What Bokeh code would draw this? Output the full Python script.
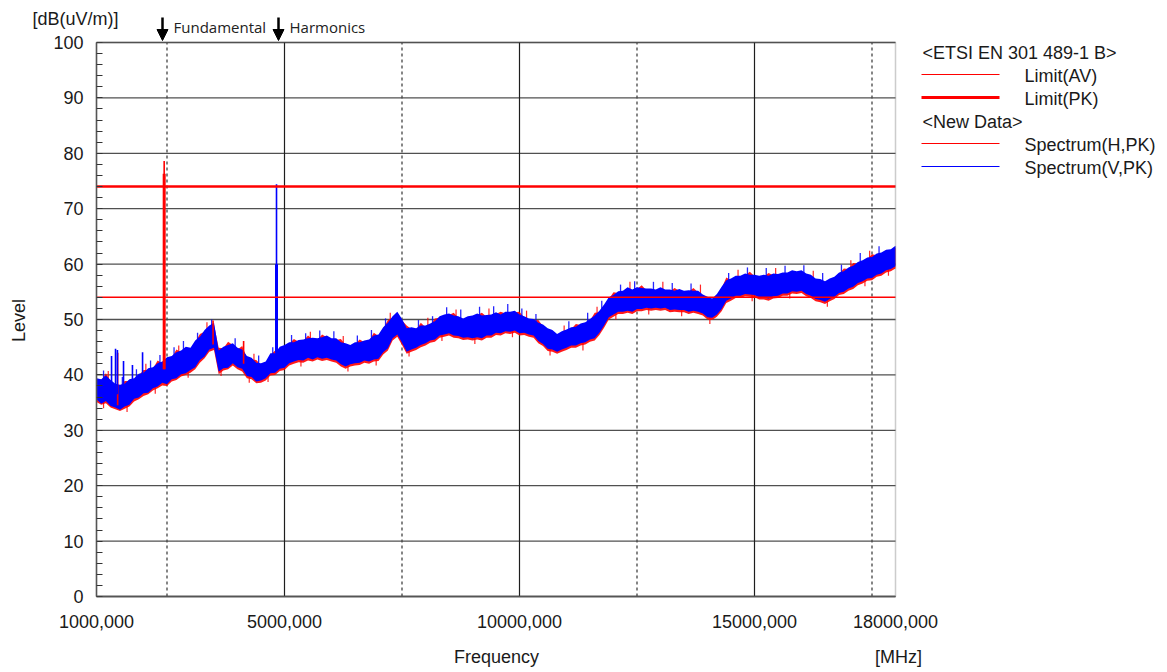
from math import pi
from bokeh.plotting import figure
from bokeh.models import Range1d, FixedTicker, Label, Arrow, NormalHead, BoxAnnotation
from bokeh.embed import file_html
from bokeh.resources import INLINE

# ---------------- data ----------------
freq = list(range(1000, 18001, 100))  # MHz sample points

v_lo = [35.6, 34.8, 35.3, 34.4, 34.1, 33.7, 34.3, 34.6, 35.7, 35.9,
        36.7, 36.8, 37.6, 37.9, 38.6, 38.3, 39.2, 39.4, 40.1, 40.3,
        40.9, 41.4, 42.7, 43.3, 44.6, 44.9, 40.6, 41.2, 41.3, 42.1,
        41.4, 41.1, 39.8, 39.6, 38.8, 39.0, 39.4, 40.3, 40.4, 41.1,
        41.3, 42.1, 42.4, 42.7, 42.6, 43.1, 42.8, 43.2, 42.9, 43.1,
        42.8, 42.6, 41.9, 41.5, 41.9, 42.1, 42.2, 42.6, 42.4, 42.8,
        42.9, 44.1, 44.8, 46.6, 47.3, 45.8, 44.2, 44.6, 44.9, 45.4,
        45.7, 46.2, 46.4, 47.1, 47.3, 47.5, 47.1, 47.0, 46.7, 46.8,
        46.6, 46.8, 46.6, 47.1, 47.1, 47.6, 47.5, 47.9, 47.8, 48.0,
        47.5, 47.6, 47.3, 47.1, 46.1, 45.6, 44.7, 44.6, 44.2, 44.6,
        44.9, 45.3, 45.3, 45.7, 45.9, 46.4, 46.6, 47.6, 48.9, 50.4,
        50.9, 51.4, 51.4, 51.6, 51.4, 51.9, 51.9, 52.1, 52.0, 52.1,
        52.0, 52.1, 51.7, 51.8, 51.7, 51.7, 51.4, 51.6, 51.4, 51.1,
        50.4, 50.3, 50.9, 51.9, 53.4, 53.8, 54.3, 54.3, 54.6, 54.5,
        54.4, 54.0, 54.0, 53.8, 54.2, 54.3, 54.7, 54.7, 55.1, 55.0,
        55.2, 54.6, 54.3, 53.7, 53.5, 53.2, 53.7, 54.1, 54.8, 55.0,
        55.6, 55.9, 56.6, 56.9, 57.4, 57.5, 58.1, 58.3, 58.9, 59.1,
        59.6]
v_hi = [39.4, 39.2, 39.9, 39.1, 38.4, 38.2, 38.4, 39.2, 39.4, 40.2,
        40.4, 41.2, 41.4, 42.1, 42.4, 43.2, 43.4, 44.1, 44.4, 45.1,
        44.9, 46.2, 46.9, 48.1, 48.9, 49.4, 44.4, 45.1, 45.4, 45.7,
        44.9, 44.6, 43.4, 43.1, 42.2, 42.1, 42.4, 43.9, 43.9, 45.1,
        45.4, 45.9, 45.9, 46.3, 46.4, 46.6, 46.7, 46.6, 46.8, 47.1,
        46.6, 46.6, 45.9, 45.7, 45.4, 45.9, 45.9, 46.2, 46.4, 47.1,
        47.3, 48.6, 49.4, 50.6, 51.4, 50.1, 48.4, 48.6, 48.4, 48.9,
        48.9, 49.3, 49.7, 50.6, 50.9, 51.1, 50.7, 50.6, 50.2, 50.6,
        50.7, 51.1, 50.7, 50.8, 50.9, 51.3, 50.9, 51.4, 51.4, 51.6,
        50.9, 50.6, 50.2, 50.1, 49.4, 49.1, 48.4, 48.1, 47.4, 47.9,
        48.2, 48.6, 48.7, 49.3, 49.5, 50.1, 50.7, 51.6, 52.7, 54.0,
        54.4, 55.1, 55.2, 55.8, 55.4, 55.8, 55.7, 55.6, 55.6, 55.4,
        55.8, 55.4, 55.4, 55.2, 55.5, 55.2, 55.3, 55.2, 55.2, 54.5,
        54.1, 53.8, 54.6, 55.9, 57.1, 57.4, 57.9, 57.9, 58.3, 58.1,
        58.1, 57.9, 58.1, 57.9, 58.3, 58.2, 58.5, 58.5, 58.9, 58.7,
        58.9, 58.3, 58.1, 57.4, 57.3, 56.9, 57.4, 57.7, 58.5, 58.7,
        59.4, 59.7, 60.4, 60.7, 61.2, 61.3, 61.9, 62.1, 62.6, 62.7,
        63.3]
h_lo = [35.1, 34.6, 34.9, 34.1, 33.8, 33.5, 33.9, 34.3, 35.2, 35.6,
        36.2, 36.5, 37.2, 37.6, 38.1, 38.0, 38.8, 39.1, 39.7, 40.0,
        40.4, 41.0, 42.2, 43.0, 44.2, 44.5, 40.1, 40.8, 41.0, 41.7,
        41.0, 40.6, 39.4, 39.2, 38.5, 38.6, 39.0, 39.9, 40.0, 40.7,
        40.9, 41.7, 42.0, 42.3, 42.2, 42.6, 42.4, 42.8, 42.5, 42.7,
        42.4, 42.2, 41.5, 41.1, 41.5, 41.7, 41.8, 42.2, 42.0, 42.4,
        42.5, 43.7, 44.4, 46.2, 46.9, 45.4, 43.8, 44.2, 44.5, 45.0,
        45.3, 45.8, 46.0, 46.7, 46.9, 47.1, 46.7, 46.6, 46.3, 46.4,
        46.2, 46.4, 46.2, 46.7, 46.7, 47.2, 47.1, 47.5, 47.4, 47.6,
        47.1, 47.2, 46.9, 46.7, 45.7, 45.2, 44.3, 44.2, 43.8, 44.2,
        44.5, 44.9, 44.9, 45.3, 45.5, 46.0, 46.2, 47.2, 48.5, 50.0,
        50.5, 51.0, 51.0, 51.2, 51.0, 51.5, 51.5, 51.7, 51.6, 51.7,
        51.6, 51.7, 51.3, 51.4, 51.3, 51.3, 51.0, 51.2, 51.0, 50.7,
        50.0, 49.9, 50.5, 51.5, 53.0, 53.4, 53.9, 53.9, 54.2, 54.1,
        54.0, 53.6, 53.6, 53.4, 53.8, 53.9, 54.3, 54.3, 54.7, 54.6,
        54.8, 54.2, 53.9, 53.3, 53.1, 52.8, 53.3, 53.7, 54.4, 54.6,
        55.2, 55.5, 56.2, 56.5, 57.0, 57.1, 57.7, 57.9, 58.5, 58.7,
        59.2]
h_hi = [39.0, 38.9, 40.3, 38.8, 38.1, 37.9, 38.9, 38.9, 39.1, 39.9,
        40.9, 40.9, 41.1, 42.6, 42.1, 42.9, 43.1, 44.6, 44.1, 44.8,
        44.6, 45.9, 47.4, 47.8, 48.6, 49.1, 44.9, 44.8, 46.0, 45.4,
        44.6, 45.2, 43.1, 42.8, 42.7, 41.8, 42.1, 43.6, 44.4, 44.8,
        45.1, 45.6, 46.5, 46.0, 46.1, 47.1, 46.4, 46.3, 47.3, 46.8,
        46.3, 46.3, 46.5, 45.4, 45.1, 45.6, 46.4, 45.9, 46.1, 47.6,
        47.0, 48.3, 49.9, 50.3, 51.1, 49.8, 48.9, 48.3, 48.1, 49.4,
        48.6, 49.0, 50.2, 50.3, 50.6, 50.8, 51.2, 50.3, 49.9, 50.3,
        50.4, 50.8, 51.2, 50.5, 50.6, 51.0, 51.4, 51.1, 51.1, 51.3,
        51.4, 50.3, 49.9, 49.8, 49.9, 48.8, 48.1, 47.8, 47.1, 47.6,
        47.9, 48.3, 49.2, 49.0, 49.2, 49.8, 51.2, 51.3, 52.4, 53.7,
        54.9, 54.8, 54.9, 55.5, 55.1, 55.5, 56.2, 55.3, 55.3, 55.1,
        55.5, 55.1, 55.1, 55.7, 55.2, 54.9, 55.0, 55.7, 54.9, 54.2,
        53.8, 53.5, 54.3, 55.6, 57.6, 57.1, 57.6, 57.6, 58.0, 58.6,
        57.8, 57.6, 57.8, 58.4, 58.0, 57.9, 58.2, 58.2, 58.6, 58.4,
        58.6, 58.0, 57.8, 57.1, 57.0, 56.6, 57.1, 57.4, 58.2, 59.2,
        59.1, 60.2, 60.1, 60.4, 60.9, 61.8, 61.6, 61.8, 62.3, 62.4,
        63.0]

# noise peaks sticking out of the bands
v_peak_f = [1150, 1550, 1850, 2150, 2350, 2650, 2850, 3150, 3450, 3950, 4450, 4750,
            5150, 5450, 5750, 6050, 6550, 6850, 7150, 7850, 8150, 8450, 8750, 9150,
            9450, 9750, 10050, 10350, 11050, 11450, 11750, 12150, 12450, 12850, 13250,
            13650, 14450, 14850, 15250, 15650, 16050, 16450, 16850, 17250, 17650]
v_peak_top = [40.8, 39.6, 41.0, 42.6, 43.6, 45.0, 46.1, 47.6, 50.0, 46.6, 43.5, 45.0,
              47.2, 47.5, 48.0, 47.9, 47.1, 48.1, 50.2, 49.9, 50.6, 52.2, 51.8, 52.3,
              52.4, 52.8, 52.0, 51.0, 49.7, 51.2, 53.4, 56.3, 56.9, 56.8, 56.6,
              56.5, 58.4, 59.4, 59.3, 59.7, 59.8, 58.4, 59.9, 62.0, 63.2]
h_peak_f = [1250, 2050, 2750, 3350, 4350, 5550, 6250, 7250, 8050, 8650, 9350, 10150,
            10950, 11650, 12350, 13050, 13850, 14650, 15450, 16250, 17050, 17450]
h_peak_top = [40.7, 42.0, 45.3, 49.5, 43.8, 47.8, 47.0, 51.2, 50.3, 51.8, 52.0, 51.6,
              48.9, 52.3, 56.8, 56.8, 56.3, 59.0, 59.3, 58.8, 60.7, 62.4]
h_dip_f = [1150, 1650, 2250, 2950, 3650, 4250, 4650, 5350, 6350, 6950, 7650, 8350,
           9050, 9850, 10650, 11350, 12050, 12750, 13450, 14050, 14950, 15750, 16550,
           17350, 17850]
h_dip_bottom = [34.0, 33.3, 36.6, 39.5, 39.8, 38.6, 38.7, 41.5, 40.6, 41.7, 43.3, 46.1,
                45.6, 46.8, 43.5, 44.4, 50.0, 50.9, 50.6, 49.2, 53.3, 53.8, 52.3,
                56.0, 57.9]

# narrow emissions
v_spike_f = [1320, 1405, 1445, 1575, 1765, 1980, 4830]
v_spike_base = [37.5, 36.5, 36.5, 36.0, 37.0, 38.0, 44.0]
v_spike_top = [43.4, 44.7, 44.5, 42.5, 41.8, 44.1, 74.4]
v_thick_f = [4830]
v_thick_base = [44.0]
v_thick_top = [60.0]

h_spike_f = [1450, 2440, 3480, 4130]
h_spike_base = [34.5, 41.0, 45.5, 42.0]
h_spike_top = [44.0, 78.6, 49.8, 46.1]
h_thick_f = [2440]
h_thick_base = [41.0]
h_thick_top = [76.3]

limit_f = [1000, 18000]
limit_pk = [74, 74]
limit_av = [54, 54]

x_ticks = [1000, 5000, 10000, 15000, 18000]
x_tick_labels = ["1000,000", "5000,000", "10000,000", "15000,000", "18000,000"]
x_grid_solid = [5000, 10000, 15000]
x_grid_dash = [2500, 7500, 12500, 17500]
y_ticks = list(range(0, 101, 10))
y_minor = list(range(0, 101, 2))

markers = ["Fundamental", "Harmonics"]
legend_labels = ["<ETSI EN 301 489-1 B>", "Limit(AV)", "Limit(PK)",
                 "<New Data>", "Spectrum(H,PK)", "Spectrum(V,PK)"]

# ---------------- layout: page pixel -> data ----------------
W, H = 1166, 671
FX0, FX1, FY0, FY1 = 96.0, 895.0, 596.0, 42.0
X_MIN, X_MAX, Y_MIN, Y_MAX = 1000, 18000, 0, 100


def fx(px):
    return X_MIN + (px - FX0) / (FX1 - FX0) * (X_MAX - X_MIN)


def fy(py):
    return Y_MIN + (FY0 - py) / (FY0 - FY1) * (Y_MAX - Y_MIN)


FONT = "Liberation Sans"
TXT = "#1a1a1a"
RED = "#ff0000"
BLUE = "#0000ff"

p = figure(width=W, height=H, output_backend="svg", toolbar_location=None,
           x_range=Range1d(fx(0), fx(W)), y_range=Range1d(fy(H), fy(0)),
           min_border=0, min_border_left=0, min_border_right=0,
           min_border_top=0, min_border_bottom=0,
           background_fill_color="white", border_fill_color="white")
p.outline_line_color = None
p.grid.visible = False

# grid lines inside the plot box
p.segment(x0=X_MIN, y0=y_ticks, x1=X_MAX, y1=y_ticks, line_color="#505050", line_width=1.3)
p.segment(x0=x_grid_solid, y0=Y_MIN, x1=x_grid_solid, y1=Y_MAX,
          line_color="#1e1e1e", line_width=1.2)
p.segment(x0=x_grid_dash, y0=Y_MIN, x1=x_grid_dash, y1=Y_MAX,
          line_color="#444444", line_width=1.3, line_dash="3 3")

# axes fixed at the plot box
p.yaxis.fixed_location = X_MIN
p.yaxis.bounds = (Y_MIN, Y_MAX)
p.yaxis.ticker = FixedTicker(ticks=y_ticks, minor_ticks=y_minor)
p.yaxis.major_tick_in = 0
p.yaxis.major_tick_out = 0
p.yaxis.minor_tick_in = 6
p.yaxis.minor_tick_out = 0
p.yaxis.minor_tick_line_color = "#333333"
p.yaxis.minor_tick_line_width = 1.2
p.yaxis.axis_line_color = "#555555"
p.yaxis.axis_line_width = 1.5
p.yaxis.major_label_standoff = 13
p.yaxis.major_label_text_font = FONT
p.yaxis.major_label_text_font_size = "18px"
p.yaxis.major_label_text_color = TXT

p.xaxis.fixed_location = Y_MIN
p.xaxis.bounds = (X_MIN, X_MAX)
p.xaxis.ticker = FixedTicker(ticks=x_ticks)
p.xaxis.major_label_overrides = {t: s for t, s in zip(x_ticks, x_tick_labels)}
p.xaxis.major_tick_in = 0
p.xaxis.major_tick_out = 0
p.xaxis.minor_tick_in = 0
p.xaxis.minor_tick_out = 0
p.xaxis.axis_line_color = "#555555"
p.xaxis.axis_line_width = 1.5
p.xaxis.major_label_standoff = 18
p.xaxis.major_label_text_font = FONT
p.xaxis.major_label_text_font_size = "18px"
p.xaxis.major_label_text_color = TXT

# spectra
p.varea(x=freq, y1=h_lo, y2=h_hi, fill_color=RED, fill_alpha=0.9)
p.segment(x0=h_dip_f, y0=h_dip_bottom, x1=h_dip_f, y1=[b + 2.0 for b in h_dip_bottom],
          line_color=RED, line_width=1.2, line_alpha=0.85)
p.segment(x0=h_peak_f, y0=[t - 2.0 for t in h_peak_top], x1=h_peak_f, y1=h_peak_top,
          line_color=RED, line_width=1.2, line_alpha=0.85)
p.varea(x=freq, y1=v_lo, y2=v_hi, fill_color=BLUE, fill_alpha=1.0)
p.segment(x0=v_peak_f, y0=[t - 2.0 for t in v_peak_top], x1=v_peak_f, y1=v_peak_top,
          line_color=BLUE, line_width=1.3, line_alpha=0.85)
p.segment(x0=h_spike_f, y0=h_spike_base, x1=h_spike_f, y1=h_spike_top,
          line_color=RED, line_width=1.6)
p.segment(x0=h_thick_f, y0=h_thick_base, x1=h_thick_f, y1=h_thick_top,
          line_color=RED, line_width=3)
p.segment(x0=v_spike_f, y0=v_spike_base, x1=v_spike_f, y1=v_spike_top,
          line_color=BLUE, line_width=1.6)
p.segment(x0=v_thick_f, y0=v_thick_base, x1=v_thick_f, y1=v_thick_top,
          line_color=BLUE, line_width=3)

# limits
p.line(x=limit_f, y=limit_av, line_color=RED, line_width=1.5)
p.line(x=limit_f, y=limit_pk, line_color=RED, line_width=2.5)

# plot box
p.add_layout(BoxAnnotation(left=X_MIN, right=X_MAX, bottom=Y_MIN, top=Y_MAX,
                           fill_color=None, line_color="#555555", line_width=1.5))

# texts around the box
p.add_layout(Label(x=fx(32), y=fy(18), text="[dB(uV/m)]", text_font=FONT,
                   text_font_size="18px", text_color=TXT, text_baseline="middle"))
p.add_layout(Label(x=fx(18), y=fy(320), text="Level", angle=pi / 2, text_font=FONT,
                   text_font_size="18px", text_color=TXT, text_align="center",
                   text_baseline="middle"))
p.add_layout(Label(x=fx(496), y=fy(656), text="Frequency", text_font=FONT,
                   text_font_size="18px", text_color=TXT, text_align="center",
                   text_baseline="middle"))
p.add_layout(Label(x=fx(898), y=fy(656), text="[MHz]", text_font=FONT,
                   text_font_size="18px", text_color=TXT, text_align="center",
                   text_baseline="middle"))

# marker arrows
for px, tx, name in [(162, 173, markers[0]), (278, 289, markers[1])]:
    p.add_layout(Arrow(end=NormalHead(size=11, fill_color="black", line_color="black"),
                       x_start=fx(px), y_start=fy(17), x_end=fx(px), y_end=fy(40),
                       line_color="black", line_width=2.5))
    p.add_layout(Label(x=fx(tx), y=fy(26.5), text=name, text_font="Open Sans",
                       text_font_size="15px", text_color="#222222", text_baseline="middle"))

# legend
rows_py = [52, 75, 98, 121, 144, 167]
leg_styles = [None, (RED, 1.2), (RED, 2.8), None, (RED, 1.2), (BLUE, 1.2)]
for lbl, py, st in zip(legend_labels, rows_py, leg_styles):
    if st is None:
        p.add_layout(Label(x=fx(922), y=fy(py), text=lbl, text_font=FONT,
                           text_font_size="18px", text_color=TXT, text_baseline="middle"))
    else:
        p.add_layout(Arrow(start=None, end=None, x_start=fx(921), y_start=fy(py - 1),
                           x_end=fx(999), y_end=fy(py - 1), line_color=st[0],
                           line_width=st[1]))
        p.add_layout(Label(x=fx(1024), y=fy(py), text=lbl, text_font=FONT,
                           text_font_size="18px", text_color=TXT, text_baseline="middle"))

open("out.html", "w").write(file_html(p, INLINE))
